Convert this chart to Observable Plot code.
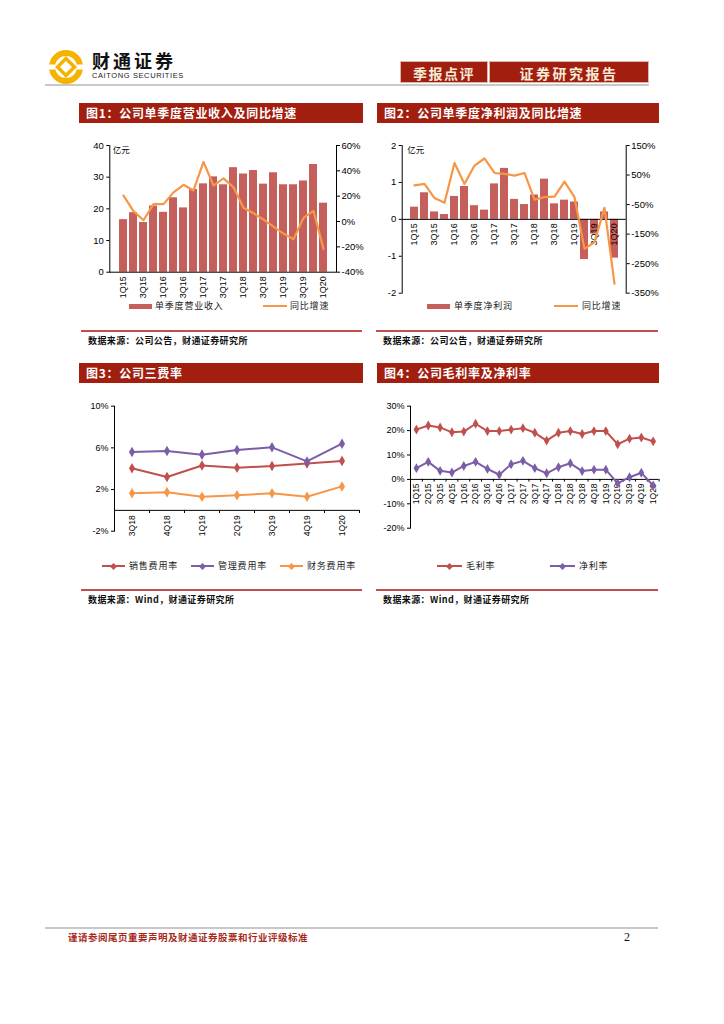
<!DOCTYPE html>
<html><head><meta charset="utf-8">
<script src="https://cdn.jsdelivr.net/npm/d3@7"></script>
<script src="https://cdn.jsdelivr.net/npm/@observablehq/plot@0.6"></script>
<style>
body{margin:0;background:#fff;}
#page{position:relative;width:724px;height:1024px;overflow:hidden;background:#fff;font-family:"Noto Sans CJK SC","Liberation Sans",sans-serif;}
.abs{position:absolute;}
.hdr{position:absolute;height:20px;background:#a21e0f;color:#fff;font-weight:bold;font-size:12px;line-height:20px;padding-left:7px;letter-spacing:0.7px;box-sizing:border-box;white-space:nowrap;}
.tab{position:absolute;top:61px;height:22px;background:#a21e0f;color:#f6ecd8;font-weight:bold;font-size:14px;line-height:22px;text-align:center;letter-spacing:1.5px;border:1px solid #d9b8b0;box-sizing:border-box;}
.src{position:absolute;font-size:9px;font-weight:bold;color:#111;letter-spacing:0.4px;line-height:12px;white-space:nowrap;}
.redline{position:absolute;height:1.5px;background:#c0504d;}
.lg{position:absolute;font-size:9px;color:#222;letter-spacing:0.8px;line-height:12px;white-space:nowrap;}
.sw{position:absolute;}
.chart{position:absolute;}
.chart svg{background:transparent;overflow:visible;}
</style>
</head><body>
<div id="page">
  <!-- logo -->
  <svg class="abs" style="left:46px;top:49px" width="40" height="36" viewBox="0 0 40 36">
    <circle cx="20" cy="18" r="14" fill="none" stroke="#f5b300" stroke-width="6"/>
    <rect x="14" y="12" width="12" height="12" transform="rotate(45 20 18)" fill="none" stroke="#f5b300" stroke-width="3.5"/>
    <rect x="3" y="15.5" width="6" height="5" fill="#fff"/>
    <rect x="31" y="15.5" width="6" height="5" fill="#fff"/>
  </svg>
  <div class="abs" style="left:92px;top:49px;font-size:18px;font-weight:bold;letter-spacing:3px;color:#111;line-height:22px;">财通证券</div>
  <div class="abs" style="left:92px;top:71px;font-family:'Liberation Sans';font-size:7.5px;letter-spacing:0.6px;color:#222;line-height:9px;">CAITONG SECURITIES</div>
  <div class="tab" style="left:400px;width:88px;">季报点评</div>
  <div class="tab" style="left:489px;width:160px;letter-spacing:2.5px;">证券研究报告</div>
  <div class="abs" style="left:45px;top:84px;width:604px;height:2px;background:#c8c8c8;"></div>

  <div class="hdr" style="left:79px;top:103px;width:284px;">图1：公司单季度营业收入及同比增速</div>
  <div class="hdr" style="left:377px;top:103px;width:282px;">图2：公司单季度净利润及同比增速</div>
  <div class="hdr" style="left:79px;top:363px;width:284px;">图3：公司三费率</div>
  <div class="hdr" style="left:377px;top:363px;width:282px;">图4：公司毛利率及净利率</div>

  <div id="c1" class="chart" style="left:78px;top:130px;width:287px;"></div>
  <div id="c2" class="chart" style="left:377px;top:130px;width:283px;"></div>
  <div id="c3" class="chart" style="left:78px;top:395px;width:287px;"></div>
  <div id="c4" class="chart" style="left:377px;top:395px;width:285px;"></div>

  <!-- legends -->
  <div class="sw" style="left:129px;top:304px;width:23px;height:5px;background:#c55f5c;"></div>
  <div class="lg" style="left:155px;top:300px;">单季度营业收入</div>
  <div class="sw" style="left:263px;top:305px;width:24px;height:2px;background:#f79646;"></div>
  <div class="lg" style="left:290px;top:300px;">同比增速</div>

  <div class="sw" style="left:427px;top:304px;width:23px;height:5px;background:#c55f5c;"></div>
  <div class="lg" style="left:454px;top:300px;">单季度净利润</div>
  <div class="sw" style="left:554px;top:305px;width:24px;height:2px;background:#f79646;"></div>
  <div class="lg" style="left:582px;top:300px;">同比增速</div>

  <div class="redline" style="left:81px;top:330px;width:281px;"></div>
  <div class="redline" style="left:376px;top:330px;width:282px;"></div>
  <div class="src" style="left:88px;top:335px;">数据来源：公司公告，财通证券研究所</div>
  <div class="src" style="left:383px;top:335px;">数据来源：公司公告，财通证券研究所</div>

  <div class="redline" style="left:81px;top:589px;width:281px;"></div>
  <div class="redline" style="left:376px;top:589px;width:282px;"></div>
  <div class="src" style="left:88px;top:594px;">数据来源：Wind，财通证券研究所</div>
  <div class="src" style="left:383px;top:594px;">数据来源：Wind，财通证券研究所</div>

  <div class="abs" style="left:45px;top:927px;width:613px;height:2px;background:#c8c8c8;"></div>
  <div class="abs" style="left:68px;top:931px;font-size:9.5px;font-weight:bold;color:#a52a1a;letter-spacing:0.5px;line-height:12px;">谨请参阅尾页重要声明及财通证券股票和行业评级标准</div>
  <div class="abs" style="left:624px;top:930px;font-family:'Liberation Serif';font-size:12px;color:#111;line-height:14px;">2</div>
</div>
<script>
// ---------- data ----------
const quarters = ["1Q15","2Q15","3Q15","4Q15","1Q16","2Q16","3Q16","4Q16","1Q17","2Q17","3Q17","4Q17","1Q18","2Q18","3Q18","4Q18","1Q19","2Q19","3Q19","4Q19","1Q20"];
const revenue = [16.6,18.8,15.7,20.9,18.9,23.5,20.3,26.1,27.9,30.1,27.6,33.0,31.0,32.1,27.8,31.4,27.6,27.6,28.8,34.0,21.8];
const revenueYoY = [20.5,8.2,1.0,13.7,13.7,23.0,29.0,24.5,47.0,28.4,34.0,27.0,10.8,6.5,1.5,-4.0,-9.5,-14.0,2.9,8.4,-21.6];
const netProfit = [0.33,0.72,0.20,0.13,0.62,0.89,0.37,0.25,0.96,1.38,0.54,0.40,0.66,1.09,0.42,0.52,0.47,-1.09,-0.40,0.20,-1.05];
const netProfitYoY = [15,20,-28,-44,91,20,82,106,57,54,48,57,-33,-25,-23,28,-25,-200,-177,-61,-318];
const oddQuarterLabels = ["1Q15","3Q15","1Q16","3Q16","1Q17","3Q17","1Q18","3Q18","1Q19","3Q19","1Q20"];
const leftTicks1 = [0,10,20,30,40];
const rightTicks1 = [-40,-20,0,20,40,60];
const leftTicks2 = [-2,-1,0,1,2];
const rightTicks2 = [150,50,-50,-150,-250,-350];

const expQuarters = ["3Q18","4Q18","1Q19","2Q19","3Q19","4Q19","1Q20"];
const salesRate = [4.05,3.2,4.3,4.1,4.25,4.5,4.75];
const adminRate = [5.6,5.7,5.35,5.8,6.05,4.7,6.4];
const finRate = [1.65,1.75,1.3,1.45,1.65,1.3,2.3];
const ticks3 = [-2,2,6,10];

const grossMargin = [20.4,22.1,21.3,19.3,19.6,22.8,19.8,19.8,20.4,21.0,19.1,15.9,19.1,19.8,18.6,19.8,19.8,14.4,16.7,17.2,15.6];
const netMargin = [4.6,7.2,3.5,2.8,5.5,7.2,4.3,1.9,6.2,7.6,4.6,2.5,5.0,6.6,3.4,4.0,4.0,-1.6,0.9,2.7,-2.5];
const ticks4 = [-20,-10,0,10,20,30];

const RED = "#c0504d", PURPLE = "#7b5ea7", ORANGE = "#f79646", BAR = "#c55f5c";
const st = {fontFamily:"Liberation Sans, Arial, sans-serif", fontSize:"9px", background:"transparent", overflow:"visible", color:"#000"};

// ---------- chart 1 ----------
const map1 = g => (g + 40) * 0.4;      // right axis (-40%..60%) onto left (0..40)
const d1 = quarters.map((q,i) => ({q, v: revenue[i], g: map1(revenueYoY[i])}));
document.getElementById("c1").append(Plot.plot({
  width:287, height:170, marginLeft:31.3, marginRight:29, marginTop:15, marginBottom:28.3,
  style: st,
  x:{type:"band", domain:quarters, paddingInner:0.2, paddingOuter:0.1, axis:null},
  y:{domain:[0,40], axis:null},
  marks:[
    Plot.barY(d1, {x:"q", y:"v", fill:BAR}),
    Plot.line(d1, {x:"q", y:"g", stroke:ORANGE, strokeWidth:2.2}),
    Plot.ruleY([0], {stroke:"#000", strokeWidth:1}),
    Plot.frame({anchor:"left", stroke:"#000"}),
    Plot.frame({anchor:"right", stroke:"#000"}),
    Plot.axisY({anchor:"left", ticks:leftTicks1, tickSize:3, tickPadding:3, fontSize:9.5, tickFormat:d=>String(d)}),
    Plot.axisY({anchor:"right", ticks:rightTicks1.map(map1), tickSize:3, tickPadding:2, fontSize:9.5,
      tickFormat: d => `${Math.round(d/0.4 - 40)}%`}),
    Plot.text(oddQuarterLabels, {x:d=>d, y:()=>0, rotate:-90, textAnchor:"end", dy:4, fontSize:9}),
    Plot.text(["亿元"], {frameAnchor:"top-left", dx:3, dy:1, fontSize:8.5, textAnchor:"start", lineAnchor:"top", fontFamily:"Noto Sans CJK SC"})
  ]
}));

// ---------- chart 2 ----------
const map2 = g => (g + 100) / 125;     // right axis (-350%..150%) onto left (-2..2)
const d2 = quarters.map((q,i) => ({q, v: netProfit[i], g: map2(netProfitYoY[i])}));
document.getElementById("c2").append(Plot.plot({
  width:283, height:170, marginLeft:24.7, marginRight:34.3, marginTop:15, marginBottom:7.3,
  style: st,
  x:{type:"band", domain:quarters, paddingInner:0.2, paddingOuter:0.1, axis:null},
  y:{domain:[-2,2], axis:null},
  marks:[
    Plot.barY(d2, {x:"q", y:"v", fill:BAR}),
    Plot.ruleY([0], {stroke:"#000", strokeWidth:1}),
    Plot.text(oddQuarterLabels, {x:d=>d, y:()=>0, rotate:-90, textAnchor:"end", dy:4, fontSize:9}),
    Plot.line(d2, {x:"q", y:"g", stroke:ORANGE, strokeWidth:2.2}),
    Plot.frame({anchor:"left", stroke:"#000"}),
    Plot.frame({anchor:"right", stroke:"#000"}),
    Plot.axisY({anchor:"left", ticks:leftTicks2, tickSize:3, tickPadding:3, fontSize:9.5, tickFormat:d=>String(d)}),
    Plot.axisY({anchor:"right", ticks:rightTicks2.map(map2), tickSize:3, tickPadding:2, fontSize:9.5,
      tickFormat: d => `${Math.round(d*125 - 100)}%`}),
    Plot.text(["亿元"], {frameAnchor:"top-left", dx:5, dy:1, fontSize:8.5, textAnchor:"start", lineAnchor:"top", fontFamily:"Noto Sans CJK SC"})
  ]
}));

// ---------- chart 3 ----------
const d3rows = expQuarters.map((q,i) => ({q, i: i + 0.5, s: salesRate[i], a: adminRate[i], f: finRate[i]}));
document.getElementById("c3").append(Plot.plot({
  width:287, height:140, marginLeft:36, marginRight:6, marginTop:10.7, marginBottom:4.3,
  style: st,
  x:{domain:[0,expQuarters.length], axis:null},
  y:{domain:[-2,10], axis:null},
  marks:[
    Plot.ruleY([0], {stroke:"#000"}),
    Plot.ruleX(d3.range(1, expQuarters.length + 1), {y1:0, y2:-0.3, stroke:"#000"}),
    Plot.frame({anchor:"left", stroke:"#000"}),
    Plot.axisY({anchor:"left", ticks:ticks3, tickSize:3, tickPadding:3, fontSize:9, tickFormat:d=>`${d}%`}),
    Plot.text(d3rows, {x:"i", y:()=>0, text:"q", rotate:-90, textAnchor:"end", dy:5, fontSize:8.5}),
    Plot.line(d3rows, {x:"i", y:"s", stroke:RED, strokeWidth:2}),
    Plot.dot(d3rows, {x:"i", y:"s", fill:RED, symbol:"diamond", r:3.2}),
    Plot.line(d3rows, {x:"i", y:"a", stroke:PURPLE, strokeWidth:2}),
    Plot.dot(d3rows, {x:"i", y:"a", fill:PURPLE, symbol:"diamond", r:3.2}),
    Plot.line(d3rows, {x:"i", y:"f", stroke:ORANGE, strokeWidth:2}),
    Plot.dot(d3rows, {x:"i", y:"f", fill:ORANGE, symbol:"diamond", r:3.2})
  ]
}));

// ---------- chart 4 ----------
const d4rows = quarters.map((q,i) => ({q, i: i + 0.5, g: grossMargin[i], n: netMargin[i]}));
document.getElementById("c4").append(Plot.plot({
  width:285, height:135, marginLeft:33, marginRight:3.4, marginTop:10.7, marginBottom:2.3,
  style: st,
  x:{domain:[0,quarters.length], axis:null},
  y:{domain:[-20,30], axis:null},
  marks:[
    Plot.ruleY([0], {stroke:"#000"}),
    Plot.ruleX(d3.range(1, quarters.length + 1), {y1:0, y2:-1.1, stroke:"#000"}),
    Plot.frame({anchor:"left", stroke:"#000"}),
    Plot.axisY({anchor:"left", ticks:ticks4, tickSize:3, tickPadding:3, fontSize:9, tickFormat:d=>`${d}%`}),
    Plot.text(d4rows, {x:"i", y:()=>0, text:"q", rotate:-90, textAnchor:"end", dy:4, fontSize:8.5}),
    Plot.line(d4rows, {x:"i", y:"g", stroke:RED, strokeWidth:2}),
    Plot.dot(d4rows, {x:"i", y:"g", fill:RED, symbol:"diamond", r:3}),
    Plot.line(d4rows, {x:"i", y:"n", stroke:PURPLE, strokeWidth:2}),
    Plot.dot(d4rows, {x:"i", y:"n", fill:PURPLE, symbol:"diamond", r:3})
  ]
}));

// ---------- legends for line charts ----------
function lineLegend(items){
  const page = document.getElementById("page");
  items.forEach(it => {
    const sw = document.createElement("div");
    sw.className = "sw";
    sw.style.cssText = `left:${it.x}px;top:565px;width:${it.w}px;height:2px;background:${it.c};`;
    page.append(sw);
    const dm = document.createElement("div");
    dm.className = "sw";
    dm.style.cssText = `left:${it.x + it.w/2 - 2.5}px;top:563.5px;width:5px;height:5px;background:${it.c};transform:rotate(45deg);`;
    page.append(dm);
    const t = document.createElement("div");
    t.className = "lg";
    t.style.cssText = `left:${it.x + it.w + 4}px;top:560px;`;
    t.textContent = it.t;
    page.append(t);
  });
}
lineLegend([
  {x:102, w:23, c:RED, t:"销售费用率"},
  {x:191, w:23, c:PURPLE, t:"管理费用率"},
  {x:280, w:23, c:ORANGE, t:"财务费用率"}
]);
lineLegend([
  {x:437, w:25, c:RED, t:"毛利率"},
  {x:550, w:25, c:PURPLE, t:"净利率"}
]);
</script>
</body></html>
